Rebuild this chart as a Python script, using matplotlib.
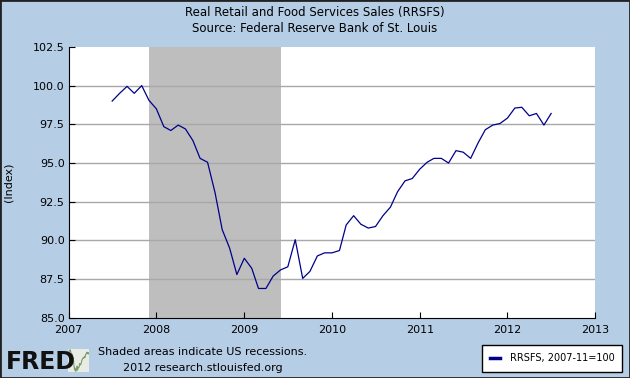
import numpy as np
import matplotlib
matplotlib.use('Agg')
import matplotlib.pyplot as plt
import pandas as pd
from matplotlib.patches import Rectangle

# monthly RRSFS index, 2007-11 = 100
dates = pd.date_range('2007-07-01', '2012-07-01', freq='MS')
values = [99.0, 99.5, 99.95, 99.5, 100.0, 99.05,
          98.5, 97.35, 97.1, 97.45, 97.2, 96.45, 95.3, 95.05, 93.1, 90.7, 89.5, 87.8,
          88.85, 88.2, 86.9, 86.9, 87.7, 88.1, 88.3, 90.05, 87.55, 88.0, 89.0, 89.2,
          89.2, 89.35, 91.0, 91.6, 91.05, 90.8, 90.9, 91.6, 92.15, 93.15, 93.85, 94.0,
          94.6, 95.05, 95.3, 95.3, 95.0, 95.8, 95.7, 95.3, 96.3, 97.15, 97.45, 97.55,
          97.9, 98.55, 98.6, 98.05, 98.2, 97.45, 98.2]

recession = (pd.Timestamp('2007-12-01'), pd.Timestamp('2009-06-01'))
yticks = [85.0, 87.5, 90.0, 92.5, 95.0, 97.5, 100.0, 102.5]
years = [2007, 2008, 2009, 2010, 2011, 2012, 2013]

bg = '#b5cde5'
fig = plt.figure(figsize=(6.3, 3.78), dpi=100, facecolor=bg)
ax = fig.add_axes([0.109, 0.159, 0.836, 0.717])
ax.set_facecolor('white')

ax.axvspan(recession[0], recession[1], color='#bebebe', zorder=0, lw=0)
for y in yticks[1:-1]:
    ax.axhline(y, color='#a8a8a8', lw=1, zorder=1)
ax.plot(dates, values, color='#00008b', lw=0.9, zorder=3)

ax.set_ylim(85, 102.5)
ax.set_xlim(pd.Timestamp('2007-01-01'), pd.Timestamp('2013-01-01'))
ax.set_yticks(yticks)
ax.set_yticklabels(['%.1f' % v for v in yticks])
ax.set_xticks([pd.Timestamp('%d-01-01' % y) for y in years])
ax.set_xticklabels([str(y) for y in years])
ax.tick_params(direction='in', length=4, labelsize=8, color='black', pad=3)
ax.tick_params(axis='x', pad=5)
for s in ['top', 'right']:
    ax.spines[s].set_visible(False)
ax.spines['left'].set_color('black')
ax.spines['bottom'].set_color('black')
ax.set_ylabel('(Index)', fontsize=8, labelpad=14)

fig.text(0.5, 0.967, 'Real Retail and Food Services Sales (RRSFS)', ha='center', va='center', fontsize=8.5)
fig.text(0.5, 0.924, 'Source: Federal Reserve Bank of St. Louis', ha='center', va='center', fontsize=8.5)
fig.text(0.155, 0.068, 'Shaded areas indicate US recessions.', ha='left', va='center', fontsize=8)
fig.text(0.195, 0.027, '2012 research.stlouisfed.org', ha='left', va='center', fontsize=8)

# FRED logo
fig.text(0.01, 0.043, 'FRED', ha='left', va='center', fontsize=17, fontweight='heavy', color='#111111')
icon = fig.add_axes([0.108, 0.015, 0.034, 0.062])
icon.set_facecolor('#e8ece4')
icon.plot(range(len(values)), values, color='#7a9a6a', lw=0.8)
icon.set_xticks([]); icon.set_yticks([])
for s in icon.spines.values():
    s.set_visible(False)

# legend box
fig.patches.append(Rectangle((0.765, 0.016), 0.222, 0.072, transform=fig.transFigure,
                             facecolor='white', edgecolor='black', lw=1))
fig.lines.append(plt.Line2D([0.778, 0.793], [0.052, 0.052], transform=fig.transFigure,
                            color='#00008b', lw=2.5))
fig.text(0.81, 0.052, 'RRSFS, 2007-11=100', ha='left', va='center', fontsize=7)

# outer frame
fig.patches.append(Rectangle((0.0, 0.0), 1.0, 1.0, transform=fig.transFigure,
                             facecolor='none', edgecolor='#222222', lw=2))

fig.savefig('out.png', dpi=100, facecolor=bg)
